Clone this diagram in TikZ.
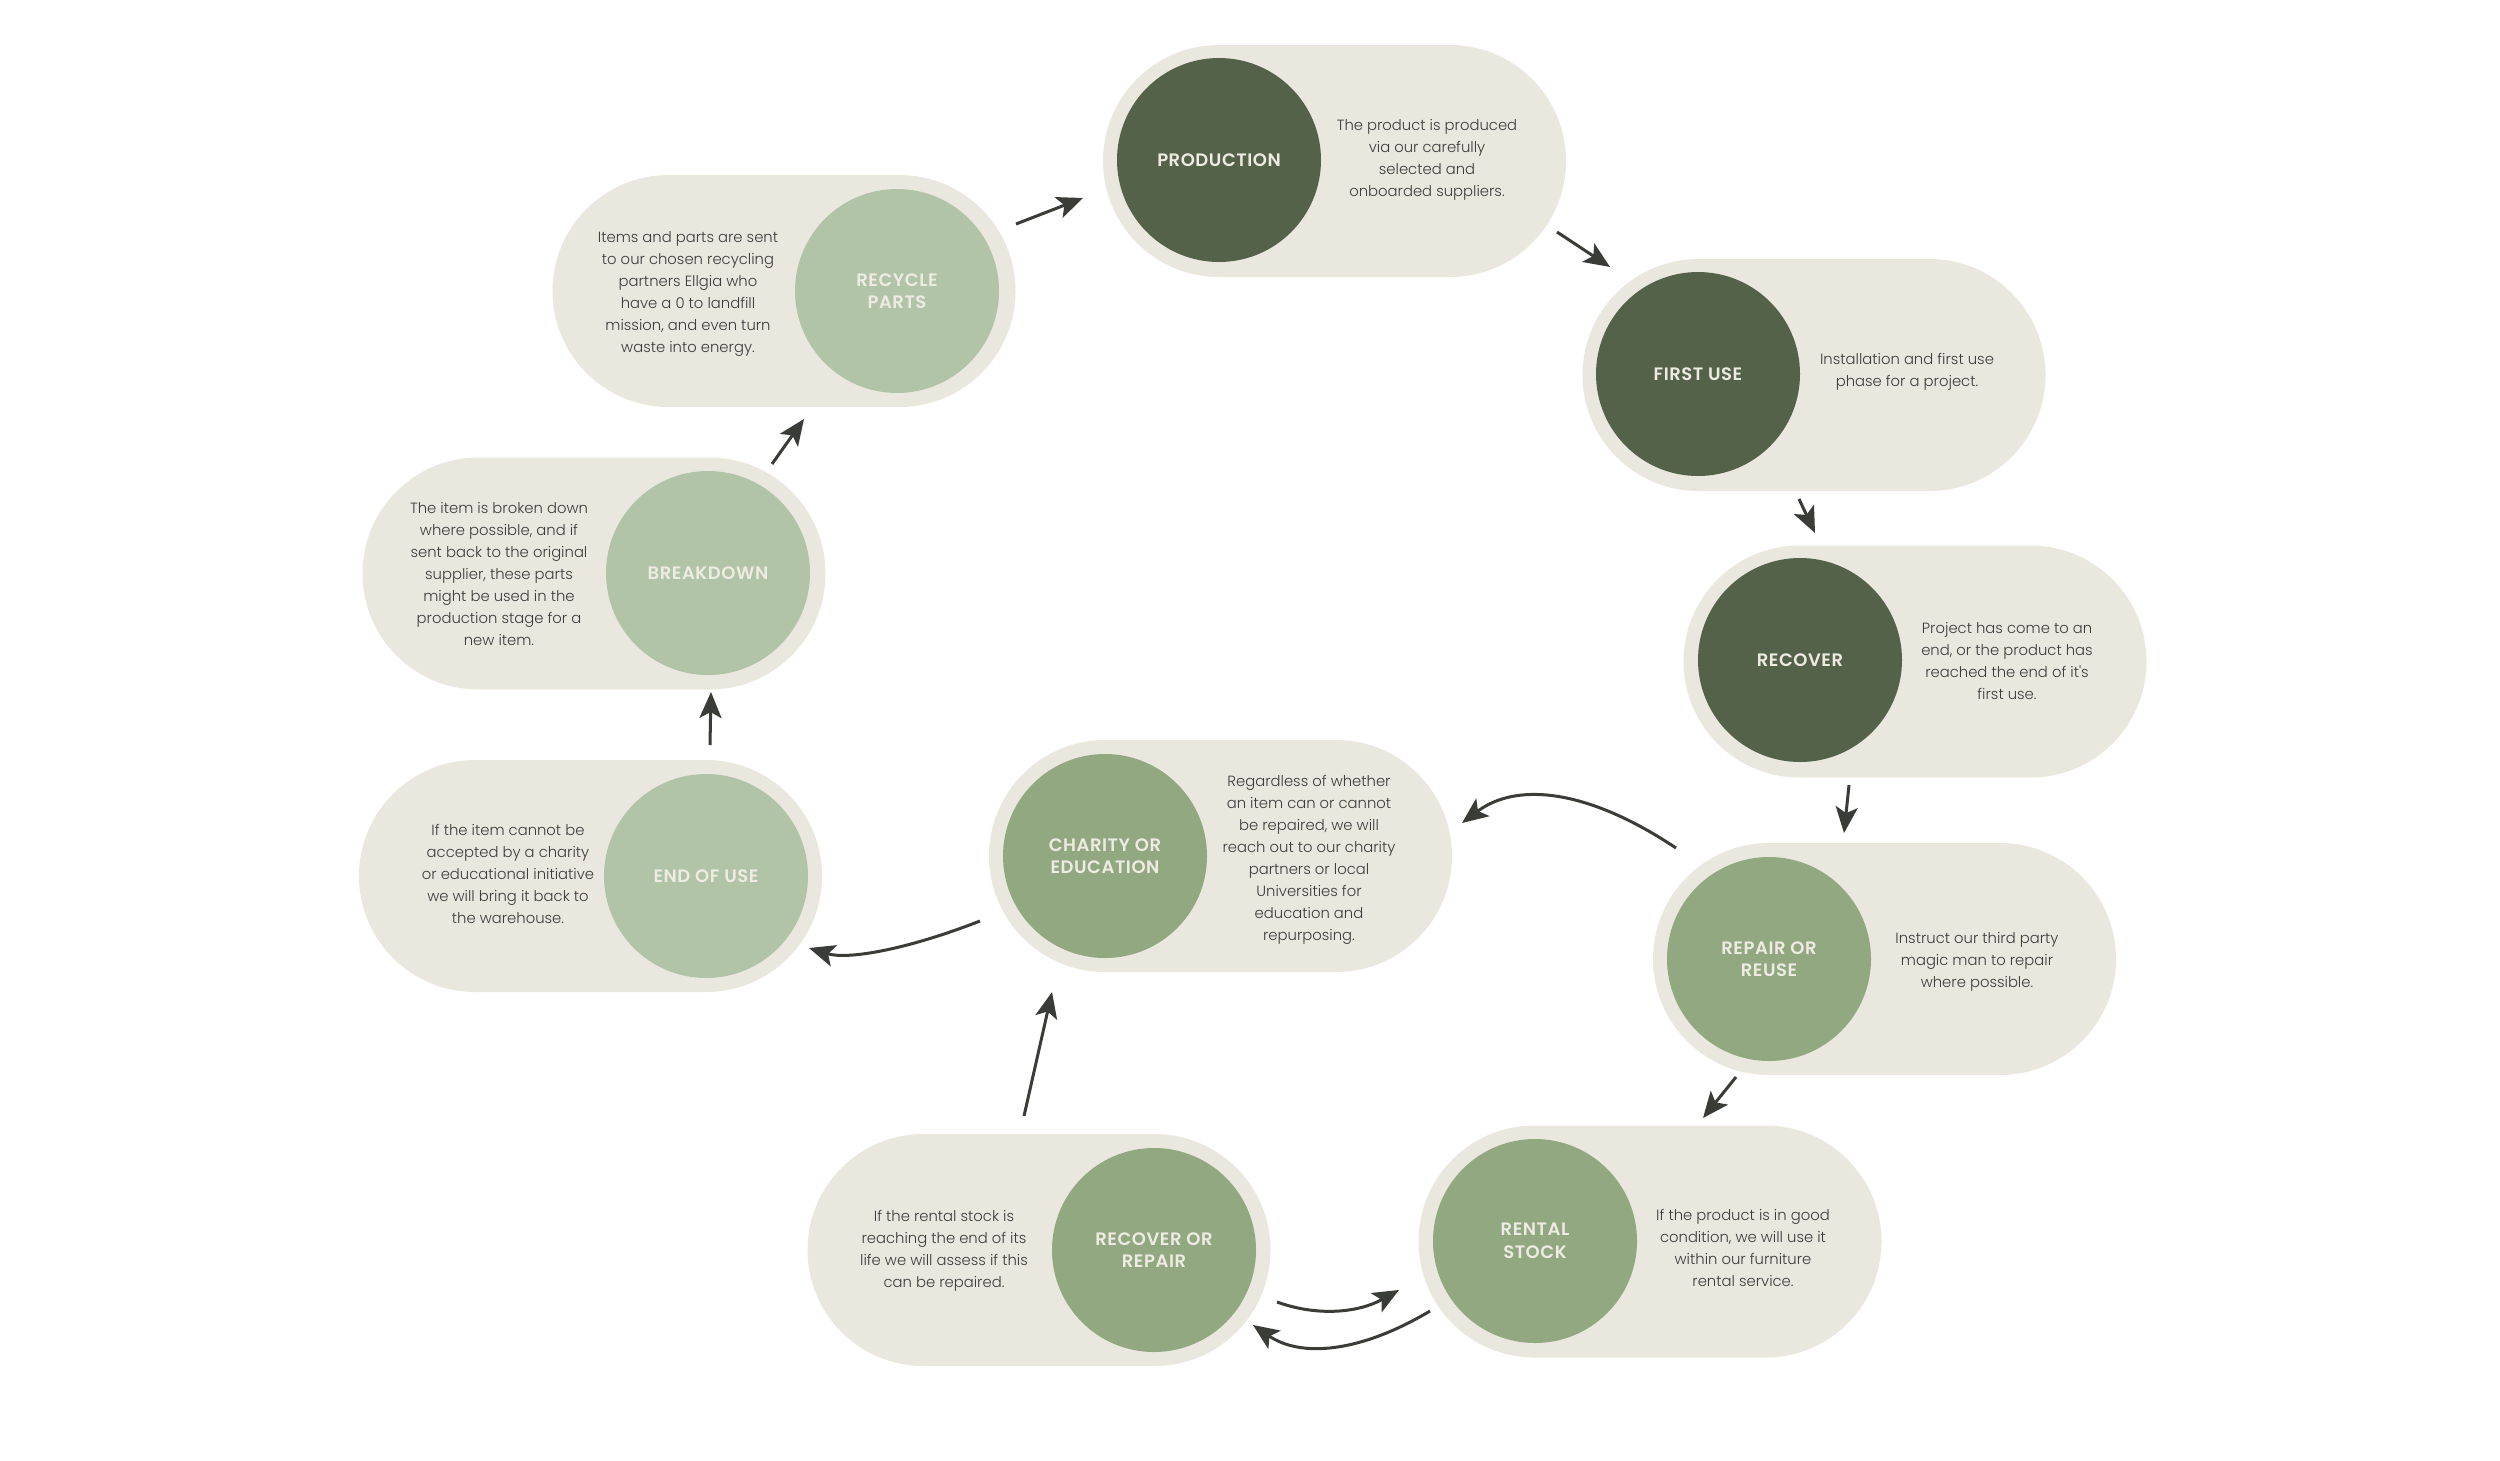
\documentclass[tikz,border=0pt]{standalone}
\usepackage{fontspec}
\usetikzlibrary{arrows.meta}
\newfontfamily\bodyfont{Poppins Light}
\newfontfamily\titlefont{Poppins SemiBold}[LetterSpace=3]
\definecolor{pillbg}{HTML}{EAE7DF}
\definecolor{darkg}{HTML}{55624A}
\definecolor{midg}{HTML}{91A881}
\definecolor{lightg}{HTML}{B1C4A8}
\definecolor{titletxt}{HTML}{EEEBE3}
\definecolor{bodytxt}{HTML}{3C3C3C}
\definecolor{arrowc}{HTML}{3A3C37}
\tikzset{
 pill/.style={fill=pillbg, rounded corners=116pt, minimum width=463pt, minimum height=232pt, inner sep=0pt},
 stage/.style={circle, minimum size=204pt, inner sep=0pt, text=titletxt, align=center, font=\titlefont\fontsize{18}{22.5}\selectfont},
 desc/.style={align=center, text=bodytxt, font=\bodyfont\fontsize{14.8}{22}\selectfont, inner sep=0pt},
 flow/.style={draw=arrowc, line width=3pt, -{Stealth[length=26pt,width=22pt,inset=6pt]}}
}
\begin{document}
\begin{tikzpicture}[x=1pt,y=-1pt]
\useasboundingbox[fill=white] (0,0) rectangle (2500,1460);
% pills
\node[pill] (p1) at (1334.5,161) {};
\node[pill] (p2) at (1814,375) {};
\node[pill] (p3) at (1915,661.5) {};
\node[pill] (p4) at (1884.5,959) {};
\node[pill] (p5) at (1650,1241.5) {};
\node[pill] (p6) at (1039,1250) {};
\node[pill] (p7) at (1220.5,856) {};
\node[pill] (p8) at (590.5,876) {};
\node[pill] (p9) at (594,573.5) {};
\node[pill] (p10) at (784,291) {};
% circles
\node[stage, fill=darkg] (c1) at (1219,160) {PRODUCTION};
\node[stage, fill=darkg] (c2) at (1698,374) {FIRST USE};
\node[stage, fill=darkg] (c3) at (1800,660) {RECOVER};
\node[stage, fill=midg] (c4) at (1769,959) {REPAIR OR\\REUSE};
\node[stage, fill=midg] (c5) at (1535,1241) {RENTAL\\STOCK};
\node[stage, fill=midg] (c6) at (1154,1250) {RECOVER OR\\REPAIR};
\node[stage, fill=midg] (c7) at (1105,856) {CHARITY OR\\EDUCATION};
\node[stage, fill=lightg] (c8) at (706,876) {END OF USE};
\node[stage, fill=lightg] (c9) at (708,573) {BREAKDOWN};
\node[stage, fill=lightg] (c10) at (897,291) {RECYCLE\\PARTS};
% descriptions
\node[desc] (d1) at (1427,160) {The product is produced\\via our carefully\\selected and\\onboarded suppliers.};
\node[desc] (d2) at (1907,372) {Installation and first use\\phase for a project.};
\node[desc] (d3) at (2007,661) {Project has come to an\\end, or the product has\\reached the end of it's\\first use.};
\node[desc] (d4) at (1977,962) {Instruct our third party\\magic man to repair\\where possible.};
\node[desc] (d5) at (1743,1248) {If the product is in good\\condition, we will use it\\within our furniture\\rental service.};
\node[desc] (d6) at (944,1251) {If the rental stock is\\reaching the end of its\\life we will assess if this\\can be repaired.};
\node[desc] (d7) at (1309,860) {Regardless of whether\\an item can or cannot\\be repaired, we will\\reach out to our charity\\partners or local\\Universities for\\education and\\repurposing.};
\node[desc] (d8) at (508,874) {If the item cannot be\\accepted by a charity\\or educational initiative\\we will bring it back to\\the warehouse.};
\node[desc] (d9) at (499,574) {The item is broken down\\where possible, and if\\sent back to the original\\supplier, these parts\\might be used in the\\production stage for a\\new item.};
\node[desc] (d10) at (688,294) {Items and parts are sent\\to our chosen recycling\\partners Ellgia who\\have a 0 to landfill\\mission, and even turn\\waste into energy.};
% connector end points
\coordinate (a1s) at (1016,224); \coordinate (a1e) at (1083,198);
\coordinate (a2s) at (1557,232); \coordinate (a2e) at (1610,267);
\coordinate (a3s) at (1799,499); \coordinate (a3e) at (1815,533);
\coordinate (a4s) at (1849,785); \coordinate (a4e) at (1844,833);
\coordinate (a5s) at (1736,1077); \coordinate (a5e) at (1703,1118);
\coordinate (a6s) at (1430,1311); \coordinate (a6e) at (1253,1325);
\coordinate (a7s) at (1277,1302); \coordinate (a7e) at (1399,1290);
\coordinate (a8s) at (1024,1116); \coordinate (a8e) at (1052,992);
\coordinate (a9s) at (1676,848); \coordinate (a9e) at (1462,823);
\coordinate (a10s) at (980,921); \coordinate (a10e) at (809,948);
\coordinate (a11s) at (710,745); \coordinate (a11e) at (711,692);
\coordinate (a12s) at (772,464); \coordinate (a12e) at (804,419);
% connectors
\draw[flow] (a1s) -- (a1e);
\draw[flow] (a2s) -- (a2e);
\draw[flow] (a3s) -- (a3e);
\draw[flow] (a4s) -- (a4e);
\draw[flow] (a5s) -- (a5e);
\draw[flow] (a6s) .. controls (1359.7,1353) and (1300.7,1357.7) .. (a6e);
\draw[flow] (a7s) .. controls (1317.7,1316.7) and (1358.3,1312.7) .. (a7e);
\draw[flow] (a8s) -- (a8e);
\draw[flow] (a9s) .. controls (1588.7,789.7) and (1517.3,781.3) .. (a9e);
\draw[flow] (a10s) .. controls (903.7,950.7) and (846.7,959.7) .. (a10e);
\draw[flow] (a11s) -- (a11e);
\draw[flow] (a12s) -- (a12e);
\end{tikzpicture}
\end{document}
